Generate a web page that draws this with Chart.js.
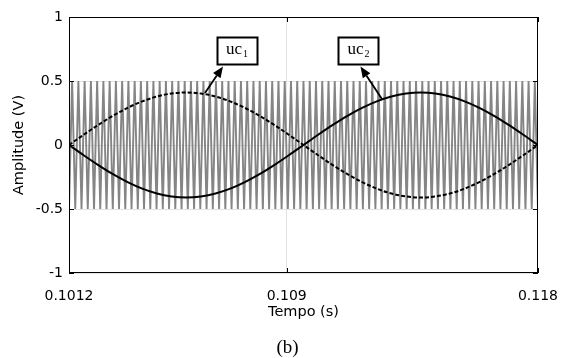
<!DOCTYPE html>
<html>
<head>
<meta charset="utf-8">
<script src="https://cdn.jsdelivr.net/npm/chart.js@4.4.0/dist/chart.umd.min.js"></script>
<style>
  html, body { margin: 0; padding: 0; background: #fff; }
  #c { display: block; }
</style>
</head>
<body>
<canvas id="c" width="573" height="358"></canvas>
<script>
// Dados -----------------------------------------------------------------------
const xTicks = [0.1012, 0.109, 0.118];
const xTickLabels = ["0.1012", "0.109", "0.118"];
const yTicks = [-1, -0.5, 0, 0.5, 1];
const yTickLabels = ["-1", "-0.5", "0", "0.5", "1"];

// portadora triangular (vértices)
const carrierT = [
  0.101200, 0.101312, 0.101424, 0.101536, 0.101648, 0.101760, 0.101872, 0.101984, 0.102096, 0.102208,
  0.102320, 0.102432, 0.102544, 0.102656, 0.102768, 0.102880, 0.102992, 0.103104, 0.103216, 0.103328,
  0.103440, 0.103552, 0.103664, 0.103776, 0.103888, 0.104000, 0.104112, 0.104224, 0.104336, 0.104448,
  0.104560, 0.104672, 0.104784, 0.104896, 0.105008, 0.105120, 0.105232, 0.105344, 0.105456, 0.105568,
  0.105680, 0.105792, 0.105904, 0.106016, 0.106128, 0.106240, 0.106352, 0.106464, 0.106576, 0.106688,
  0.106800, 0.106912, 0.107024, 0.107136, 0.107248, 0.107360, 0.107472, 0.107584, 0.107696, 0.107808,
  0.107920, 0.108032, 0.108144, 0.108256, 0.108368, 0.108480, 0.108592, 0.108704, 0.108816, 0.108928,
  0.109040, 0.109152, 0.109264, 0.109376, 0.109488, 0.109600, 0.109712, 0.109824, 0.109936, 0.110048,
  0.110160, 0.110272, 0.110384, 0.110496, 0.110608, 0.110720, 0.110832, 0.110944, 0.111056, 0.111168,
  0.111280, 0.111392, 0.111504, 0.111616, 0.111728, 0.111840, 0.111952, 0.112064, 0.112176, 0.112288,
  0.112400, 0.112512, 0.112624, 0.112736, 0.112848, 0.112960, 0.113072, 0.113184, 0.113296, 0.113408,
  0.113520, 0.113632, 0.113744, 0.113856, 0.113968, 0.114080, 0.114192, 0.114304, 0.114416, 0.114528,
  0.114640, 0.114752, 0.114864, 0.114976, 0.115088, 0.115200, 0.115312, 0.115424, 0.115536, 0.115648,
  0.115760, 0.115872, 0.115984, 0.116096, 0.116208, 0.116320, 0.116432, 0.116544, 0.116656, 0.116768,
  0.116880, 0.116992, 0.117104, 0.117216, 0.117328, 0.117440, 0.117552, 0.117664, 0.117776, 0.117888,
  0.118000
];
const carrierV = [
  -0.5, 0.5, -0.5, 0.5, -0.5, 0.5, -0.5, 0.5, -0.5, 0.5,
  -0.5, 0.5, -0.5, 0.5, -0.5, 0.5, -0.5, 0.5, -0.5, 0.5,
  -0.5, 0.5, -0.5, 0.5, -0.5, 0.5, -0.5, 0.5, -0.5, 0.5,
  -0.5, 0.5, -0.5, 0.5, -0.5, 0.5, -0.5, 0.5, -0.5, 0.5,
  -0.5, 0.5, -0.5, 0.5, -0.5, 0.5, -0.5, 0.5, -0.5, 0.5,
  -0.5, 0.5, -0.5, 0.5, -0.5, 0.5, -0.5, 0.5, -0.5, 0.5,
  -0.5, 0.5, -0.5, 0.5, -0.5, 0.5, -0.5, 0.5, -0.5, 0.5,
  -0.5, 0.5, -0.5, 0.5, -0.5, 0.5, -0.5, 0.5, -0.5, 0.5,
  -0.5, 0.5, -0.5, 0.5, -0.5, 0.5, -0.5, 0.5, -0.5, 0.5,
  -0.5, 0.5, -0.5, 0.5, -0.5, 0.5, -0.5, 0.5, -0.5, 0.5,
  -0.5, 0.5, -0.5, 0.5, -0.5, 0.5, -0.5, 0.5, -0.5, 0.5,
  -0.5, 0.5, -0.5, 0.5, -0.5, 0.5, -0.5, 0.5, -0.5, 0.5,
  -0.5, 0.5, -0.5, 0.5, -0.5, 0.5, -0.5, 0.5, -0.5, 0.5,
  -0.5, 0.5, -0.5, 0.5, -0.5, 0.5, -0.5, 0.5, -0.5, 0.5,
  -0.5, 0.5, -0.5, 0.5, -0.5, 0.5, -0.5, 0.5, -0.5, 0.5,
  -0.5
];

// sinais modulantes
const modT = [
  0.101200, 0.101725, 0.102250, 0.102775, 0.103300, 0.103825, 0.104350, 0.104875, 0.105400,
  0.105925, 0.106450, 0.106975, 0.107500, 0.108025, 0.108550, 0.109075, 0.109600,
  0.110125, 0.110650, 0.111175, 0.111700, 0.112225, 0.112750, 0.113275, 0.113800,
  0.114325, 0.114850, 0.115375, 0.115900, 0.116425, 0.116950, 0.117475, 0.118000
];
const ucSolid = [
  0, -0.080, -0.157, -0.228, -0.290, -0.341, -0.379, -0.402, -0.410,
  -0.402, -0.379, -0.341, -0.290, -0.228, -0.157, -0.080, 0,
  0.080, 0.157, 0.228, 0.290, 0.341, 0.379, 0.402, 0.410,
  0.402, 0.379, 0.341, 0.290, 0.228, 0.157, 0.080, 0
];
const ucDashed = [
  0, 0.080, 0.157, 0.228, 0.290, 0.341, 0.379, 0.402, 0.410,
  0.402, 0.379, 0.341, 0.290, 0.228, 0.157, 0.080, 0,
  -0.080, -0.157, -0.228, -0.290, -0.341, -0.379, -0.402, -0.410,
  -0.402, -0.379, -0.341, -0.290, -0.228, -0.157, -0.080, 0
];

// anotações (caixa em coordenadas de dados, seta da curva até a caixa)
const notes = [
  { main: "uc", sub: "1", bx: 0.107218, by: 0.742, ax: 0.10607, ay: 0.406 },
  { main: "uc", sub: "2", bx: 0.11157, by: 0.742, ax: 0.11241, ay: 0.36 }
];

const pts = (xs, ys) => xs.map((x, i) => ({ x, y: ys[i] }));

// Plugin: moldura, ticks internos, anotações --------------------------------
const extras = {
  id: "extras",
  afterDraw(chart) {
    const { ctx, chartArea: a, scales: { x, y } } = chart;
    ctx.save();
    // moldura
    ctx.strokeStyle = "#000";
    ctx.lineWidth = 1;
    ctx.strokeRect(Math.round(a.left) + 0.5, Math.round(a.top) + 0.5,
                   Math.round(a.right - a.left) - 1, Math.round(a.bottom - a.top) - 1);
    // ticks internos
    ctx.beginPath();
    const tl = 5;
    xTicks.forEach(v => {
      const px = Math.round(x.getPixelForValue(v)) + 0.5;
      ctx.moveTo(px, a.bottom); ctx.lineTo(px, a.bottom - tl);
      ctx.moveTo(px, a.top); ctx.lineTo(px, a.top + tl);
    });
    yTicks.forEach(v => {
      const py = Math.round(y.getPixelForValue(v)) + 0.5;
      ctx.moveTo(a.left, py); ctx.lineTo(a.left + tl, py);
      ctx.moveTo(a.right, py); ctx.lineTo(a.right - tl, py);
    });
    ctx.stroke();

    // anotações
    const bw = 40, bh = 27;
    notes.forEach(n => {
      const cx = x.getPixelForValue(n.bx), cy = y.getPixelForValue(n.by);
      const x0 = Math.round(cx - bw / 2) + 0.5, y0 = Math.round(cy - bh / 2) + 0.5;
      ctx.fillStyle = "#fff";
      ctx.fillRect(x0, y0, bw, bh);
      ctx.lineWidth = 2;
      ctx.strokeStyle = "#000";
      ctx.strokeRect(x0, y0, bw, bh);
      ctx.fillStyle = "#000";
      ctx.textBaseline = "alphabetic";
      ctx.textAlign = "left";
      ctx.font = "17px 'Liberation Serif'";
      const mw = ctx.measureText(n.main).width;
      ctx.font = "10px 'Liberation Serif'";
      const sw = ctx.measureText(n.sub).width;
      const tx = cx - (mw + sw + 1) / 2;
      ctx.font = "17px 'Liberation Serif'";
      ctx.fillText(n.main, tx, cy + 4);
      ctx.font = "10px 'Liberation Serif'";
      ctx.fillText(n.sub, tx + mw + 1, cy + 7);

      // seta
      const sx = x.getPixelForValue(n.ax), sy = y.getPixelForValue(n.ay);
      const ex = cx + (sx < cx ? -14 : 2), ey = y0 + bh + 2;
      const ang = Math.atan2(ey - sy, ex - sx);
      const hl = 11, hw = 4.5;
      const bx = ex - hl * Math.cos(ang), by = ey - hl * Math.sin(ang);
      ctx.lineWidth = 1.8;
      ctx.beginPath();
      ctx.moveTo(sx, sy); ctx.lineTo(bx, by);
      ctx.stroke();
      ctx.beginPath();
      ctx.moveTo(ex, ey);
      ctx.lineTo(bx - hw * Math.sin(ang), by + hw * Math.cos(ang));
      ctx.lineTo(bx + hw * Math.sin(ang), by - hw * Math.cos(ang));
      ctx.closePath();
      ctx.fill();
    });

    // legenda da figura
    ctx.font = "19px 'Liberation Serif'";
    ctx.textAlign = "center";
    ctx.textBaseline = "middle";
    ctx.fillText("(b)", (a.left + a.right) / 2 - 16, 348);
    ctx.restore();
  }
};

const tickFont = { family: "'DejaVu Sans', Arial, sans-serif", size: 14 };
const titleFont = { family: "'DejaVu Sans', Arial, sans-serif", size: 14.5 };

new Chart(document.getElementById("c").getContext("2d"), {
  type: "line",
  data: {
    datasets: [
      { data: pts(modT, ucSolid), borderColor: "#000", borderWidth: 2, pointRadius: 0,
        cubicInterpolationMode: "monotone" },
      { data: pts(modT, ucDashed), borderColor: "#000", borderWidth: 2, borderDash: [4, 2],
        pointRadius: 0, cubicInterpolationMode: "monotone" },
      { data: pts(carrierT, carrierV), borderColor: "#858585", borderWidth: 1.9, pointRadius: 0,
        tension: 0 }
    ]
  },
  options: {
    responsive: false,
    animation: false,
    layout: { padding: { left: 0, right: 35, top: 17, bottom: 37 } },
    plugins: { legend: { display: false }, tooltip: { enabled: false } },
    scales: {
      x: {
        type: "linear",
        min: 0.1012, max: 0.118,
        afterBuildTicks: s => { s.ticks = xTicks.map(v => ({ value: v })); },
        afterFit: s => { s.height = 48; },
        ticks: {
          autoSkip: false, maxRotation: 0, padding: 15, color: "#000", font: tickFont,
          callback: v => xTickLabels[xTicks.indexOf(v)] ?? ""
        },
        grid: { color: "#e3e3e3", drawTicks: false },
        border: { display: false },
        title: { display: true, text: "Tempo (s)", color: "#000", font: titleFont,
                 padding: { top: 0, bottom: 0 } }
      },
      y: {
        min: -1, max: 1,
        afterBuildTicks: s => { s.ticks = yTicks.map(v => ({ value: v })); },
        afterFit: s => { s.width = 69; },
        ticks: {
          padding: 6, color: "#000", font: tickFont,
          callback: v => yTickLabels[yTicks.indexOf(v)] ?? ""
        },
        grid: { color: "#e3e3e3", drawTicks: false },
        border: { display: false },
        title: { display: true, text: "Amplitude (V)", color: "#000", font: titleFont,
                 padding: { top: 11, bottom: 0 } }
      }
    }
  },
  plugins: [extras]
});
</script>
</body>
</html>
